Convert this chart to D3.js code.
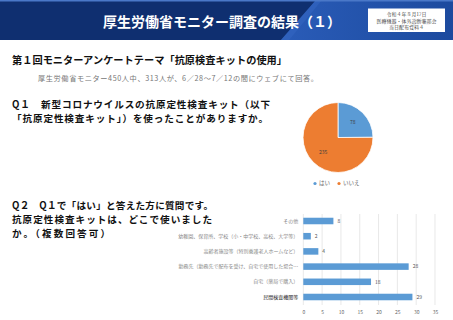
<!DOCTYPE html>
<html lang="ja">
  <head>
    <meta charset="utf-8">
    <title>厚生労働省モニター調査の結果（１）</title>
    <style>
      body { margin: 0; background: #fff; }
      svg { display: block; font-family: "Noto Sans CJK JP", "Noto Sans", sans-serif; }
    </style>
  </head>
  <body>
    <svg width="453" height="320"></svg>
    <script src="https://cdn.jsdelivr.net/npm/d3@7"></script>
    <script>
      // Q1 pie data
      const pie_labels = ['はい', 'いいえ'];
      const pie_values = [78, 235];
      const pie_colors = ['#5b9bd5', '#ed7d31'];

      // Q2 bar data (top to bottom)
      const places = [
        'その他',
        '幼稚園、保育所、学校（小・中学校、高校、大学等）',
        '高齢者施設等（特別養護老人ホームなど）',
        '勤務先（勤務先で配布を受け、自宅で使用した場合…',
        '自宅（薬局で購入）',
        '民間検査機関等'
      ];
      const place_counts = [8, 2, 4, 28, 18, 29];
      const x_ticks = [0, 5, 10, 15, 20, 25, 30, 35];

      const svg = d3.select('svg');

      // header band
      const grad = svg.append('defs').append('linearGradient')
        .attr('id', 'stripe').attr('x1', 0).attr('x2', 1);
      grad.append('stop').attr('offset', 0).attr('stop-color', '#2a5cb8');
      grad.append('stop').attr('offset', 1).attr('stop-color', '#1c4a9e');

      svg.append('rect').attr('x', 0).attr('y', 0).attr('width', 453).attr('height', 40)
        .attr('fill', '#0f2f70');
      svg.append('polygon')
        .attr('points', '281,40 316,0 453,0 453,40')
        .attr('fill', 'url(#stripe)');
      svg.append('polygon')
        .attr('points', '281,40 316,0 322,0 289,40')
        .attr('fill', '#3466c2').attr('opacity', 0.6);
      svg.append('rect').attr('x', 0).attr('y', 0).attr('width', 453).attr('height', 1.5)
        .attr('fill', '#4a78c8');

      svg.append('text')
        .attr('x', 222).attr('y', 27)
        .attr('text-anchor', 'middle')
        .attr('font-size', 14).attr('font-weight', 'bold')
        .attr('fill', '#fff')
        .text('厚生労働省モニター調査の結果（１）');

      // note box
      svg.append('rect').attr('x', 368).attr('y', 8.5).attr('width', 77).attr('height', 23.5)
        .attr('fill', '#fff');
      const note = ['令和４年８月17日', '医療機器・体外診断薬部会', '当日配布資料４'];
      svg.append('g').selectAll('text').data(note).enter()
        .append('text')
        .attr('x', 406.5)
        .attr('y', (d, i) => 16 + i * 6.5)
        .attr('text-anchor', 'middle')
        .attr('font-size', 5)
        .attr('font-family', '"Noto Serif CJK JP", "DejaVu Serif", serif')
        .attr('fill', '#333')
        .text(d => d);

      // headings
      const heading = (txt, x, y, size, width) => {
        svg.append('text')
          .attr('x', x).attr('y', y)
          .attr('font-size', size).attr('font-weight', 'bold')
          .attr('fill', '#111')
          .attr('textLength', width).attr('lengthAdjust', 'spacing')
          .text(txt);
      };
      heading('第１回モニターアンケートテーマ「抗原検査キットの使用」', 12, 63.5, 10.2, 275);

      svg.append('text')
        .attr('x', 38).attr('y', 81)
        .attr('font-size', 7.2)
        .attr('fill', '#777')
        .attr('textLength', 280).attr('lengthAdjust', 'spacing')
        .text('厚生労働省モニター450人中、313人が、6／28～7／12の間にウェブにて回答。');

      heading('Q１　新型コロナウイルスの抗原定性検査キット（以下', 12, 108, 9.6, 258);
      heading('「抗原定性検査キット」）を使ったことがありますか。', 12, 122, 9.6, 256);

      heading('Q２　Q１で「はい」と答えた方に質問です。', 12, 209, 9.6, 201);
      heading('抗原定性検査キットは、どこで使いました', 12, 223, 9.6, 200);
      heading('か。（複数回答可）', 12, 237, 9.6, 98);

      // pie
      const pie = d3.pie().sort(null)(pie_values);
      const radius = 35;
      const arc = d3.arc().innerRadius(0).outerRadius(radius);
      const label_arc = d3.arc().innerRadius(radius * 0.6).outerRadius(radius * 0.6);
      const pie_g = svg.append('g').attr('transform', 'translate(338,137.5)');
      pie_g.selectAll('path').data(pie).enter()
        .append('path')
        .attr('d', arc)
        .attr('fill', (d, i) => pie_colors[i])
        .attr('stroke', '#fff').attr('stroke-width', 0.8);
      pie_g.selectAll('text').data(pie).enter()
        .append('text')
        .attr('transform', d => `translate(${label_arc.centroid(d)})`)
        .attr('dy', '0.35em')
        .attr('text-anchor', 'middle')
        .attr('font-size', 5).attr('fill', '#404040')
        .text(d => d.data);

      // pie legend
      const legend = svg.append('g').attr('transform', 'translate(315,183.5)');
      const leg = legend.selectAll('g').data(pie_labels).enter()
        .append('g')
        .attr('transform', (d, i) => `translate(${i * 24},0)`);
      leg.append('circle').attr('r', 1.6).attr('fill', (d, i) => pie_colors[i]);
      leg.append('text')
        .attr('x', 4).attr('dy', '0.35em')
        .attr('font-size', 5.5).attr('fill', '#666')
        .text(d => d);

      // bar chart
      const x_scale = d3.scaleLinear().domain([0, 35]).range([303.3, 435]);
      const y_scale = d3.scaleBand().domain(places).range([213.4, 304.6]).paddingInner(0.57).paddingOuter(0.285);

      const grid = svg.append('g');
      grid.selectAll('line').data(x_ticks).enter()
        .append('line')
        .attr('x1', d => x_scale(d)).attr('x2', d => x_scale(d))
        .attr('y1', 214).attr('y2', 305)
        .attr('stroke', '#d9d9d9').attr('stroke-width', 0.6);

      const x_axis = svg.append('g')
        .attr('transform', 'translate(0,305)')
        .call(d3.axisBottom(x_scale).tickValues(x_ticks).tickSize(0).tickPadding(5));
      x_axis.select('.domain').remove();
      x_axis.selectAll('text').attr('font-size', 5).attr('fill', '#666')
        .attr('font-family', '"Noto Sans CJK JP", sans-serif');

      svg.append('g').selectAll('rect').data(place_counts).enter()
        .append('rect')
        .attr('x', x_scale(0))
        .attr('y', (d, i) => y_scale(places[i]))
        .attr('width', d => x_scale(d) - x_scale(0))
        .attr('height', y_scale.bandwidth())
        .attr('fill', '#5b9bd5');

      svg.append('g').selectAll('text').data(place_counts).enter()
        .append('text')
        .attr('x', d => x_scale(d) + 4)
        .attr('y', (d, i) => y_scale(places[i]) + y_scale.bandwidth() / 2)
        .attr('dy', '0.35em')
        .attr('font-size', 5).attr('fill', '#555')
        .text(d => d);

      const y_axis = svg.append('g')
        .attr('transform', `translate(${x_scale(0) - 4},0)`)
        .call(d3.axisLeft(y_scale).tickSize(0).tickPadding(1));
      y_axis.select('.domain').remove();
      y_axis.selectAll('text')
        .attr('font-size', 5)
        .attr('font-family', '"Noto Sans CJK JP", sans-serif')
        .attr('fill', d => d === '民間検査機関等' ? '#222' : '#888');
    </script>
  </body>
</html>
